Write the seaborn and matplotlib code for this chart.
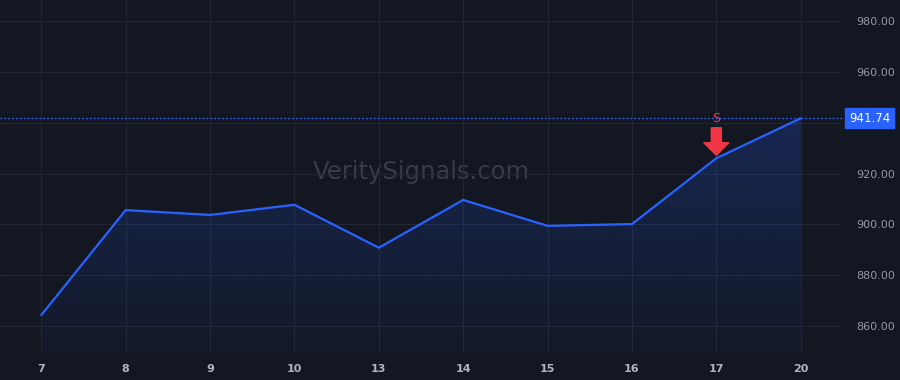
import numpy as np
import pandas as pd
import matplotlib
matplotlib.use("Agg")
import matplotlib.pyplot as plt
import seaborn as sns
from matplotlib.patches import Polygon

# data
days = ["7", "8", "9", "10", "13", "14", "15", "16", "17", "20"]
close = [864.3, 905.6, 903.7, 907.7, 890.8, 909.6, 899.4, 900.1, 926.0, 941.74]
y_ticks = [860, 880, 900, 920, 940, 960, 980]
last_price = 941.74
signal_day = "17"
signal_label = "S"

BG = "#131722"
GRID = "#232733"
LINE = "#2962ff"
TXT = "#b2b5be"
RED = "#f23645"

sns.set_theme(style="dark", rc={"axes.facecolor": BG, "figure.facecolor": BG})
plt.rcParams["font.family"] = ["DejaVu Sans"]

df = pd.DataFrame({"day": days, "close": close})
df["i"] = np.arange(len(df))

fig = plt.figure(figsize=(9, 3.8), dpi=100)
ax = fig.add_axes([0.0, 0.074, 0.9356, 0.926])
ax.set_facecolor(BG)

ax.set_xlim(-0.49, len(days) - 1 + 0.49)
ax.set_ylim(849.8, 988.3)

# gradient fill under the line
ymin, ymax = ax.get_ylim()
grad = np.linspace(0.22, 0.03, 256).reshape(-1, 1)
rgba = np.zeros((256, 1, 4))
rgba[..., :3] = matplotlib.colors.to_rgb(LINE)
rgba[..., 3] = grad
im = ax.imshow(rgba, aspect="auto", extent=[0, len(days) - 1, ymin, max(close)],
               origin="upper", zorder=1)
verts = [(0, ymin)] + list(zip(df["i"], df["close"])) + [(len(days) - 1, ymin)]
clip = Polygon(verts, closed=True, facecolor="none", edgecolor="none")
ax.add_patch(clip)
im.set_clip_path(clip)

sns.lineplot(data=df, x="i", y="close", ax=ax, color=LINE, linewidth=1.6, zorder=3)

# last price dotted line and tag
ax.axhline(last_price, color=LINE, linestyle=(0, (1.2, 1.6)), linewidth=1.0, zorder=2)
ax.text(1.008, last_price, f"{last_price:.2f}", transform=ax.get_yaxis_transform(),
        ha="left", va="center", color="white", fontsize=8.5,
        bbox=dict(boxstyle="square,pad=0.3", facecolor=LINE, edgecolor=LINE), zorder=5,
        clip_on=False)

# sell signal arrow
si = days.index(signal_day)
sy = close[si]
ax.annotate("", xy=(si, sy + 1.2), xytext=(si, sy + 12.0),
            arrowprops=dict(arrowstyle="simple,head_width=1.8,head_length=0.9,tail_width=0.72",
                            facecolor=RED, edgecolor=RED, shrinkA=0, shrinkB=0,
                            mutation_scale=10), zorder=6)
ax.text(si, sy + 15.8, signal_label, color=RED, ha="center", va="center", fontsize=9, zorder=6)

# watermark
ax.text(0.5, 0.511, "VeritySignals.com", transform=ax.transAxes, ha="center", va="center",
        color="#383c47", fontsize=17.5, zorder=0)

ax.set_xticks(df["i"])
ax.set_xticklabels(days)
ax.set_yticks(y_ticks)
# the 940 label sits under the price tag
ax.set_yticklabels(["" if v == 940 else f"{v:.2f}" for v in y_ticks])
ax.yaxis.tick_right()
ax.tick_params(axis="y", colors=TXT, labelsize=8, length=0, pad=10)
ax.tick_params(axis="x", colors=TXT, labelsize=8, length=0, pad=9)
for lbl in ax.get_xticklabels():
    lbl.set_fontweight("bold")
for lbl in ax.get_yticklabels():
    lbl.set_color("#9598a1")
ax.grid(True, color=GRID, linewidth=0.8)
ax.set_xlabel("")
ax.set_ylabel("")
for s in ax.spines.values():
    s.set_visible(False)

fig.savefig("out.png", dpi=100, facecolor=BG)
